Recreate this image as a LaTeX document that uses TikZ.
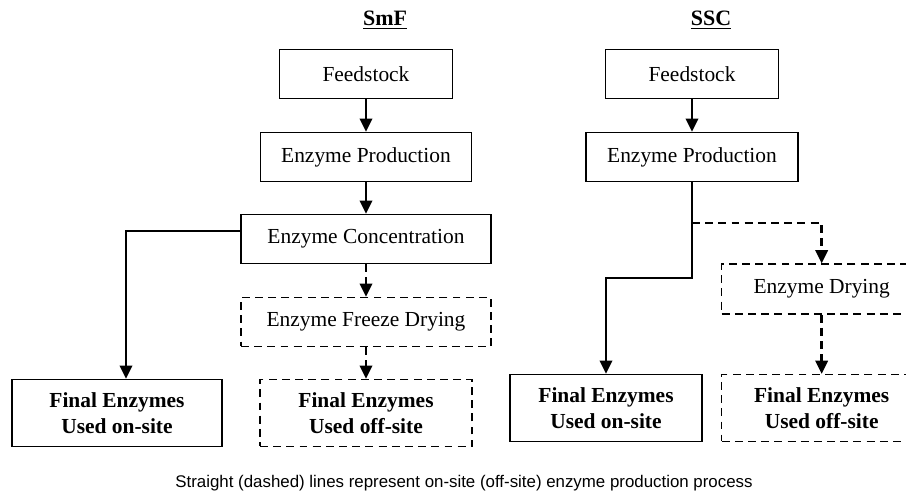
\documentclass[tikz,border=0pt]{standalone}
\usepackage{fontspec}
\setmainfont{Liberation Serif}
\newfontfamily\capfont{Liberation Sans}
\usetikzlibrary{arrows.meta}
\begin{document}
\begin{tikzpicture}[x=0.02cm,y=-0.02cm,>={Triangle[length=7.5pt,width=7pt]},line cap=butt,
box/.style={draw,line width=0.8pt,inner sep=0pt,minimum height=0.98cm,font=\fontsize{12.2}{14}\selectfont},
dbox/.style={box,dash pattern=on 4.5pt off 3pt},
fin/.style={minimum height=1.34cm,align=center,font=\fontsize{12.2}{14.5}\selectfont\bfseries},
arr/.style={->,line width=1.4pt},
darr/.style={arr,dash pattern=on 4.5pt off 3pt}]
\useasboundingbox (0,0) rectangle (906,492);
\path(385,20)node(t1){\fontsize{12.5}{14}\selectfont\underline{\textbf{SmF}}}
(366,74)node[box,minimum width=3.46cm](f1){Feedstock}
(366,157)node[box,minimum width=4.22cm](p1){Enzyme Production}
(366,239)node[box,minimum width=5cm](c1){Enzyme Concentration}
(366,322)node[dbox,minimum width=5cm](d1){Enzyme Freeze Drying}
(117,413)node[box,fin,minimum width=4.2cm](on1){Final Enzymes\\Used on-site}
(366,413)node[dbox,fin,minimum width=4.24cm](off1){Final Enzymes\\Used off-site}
;
\path(711,20)node(t2){\fontsize{12.5}{14}\selectfont\underline{\textbf{SSC}}}
(692,74)node[box,minimum width=3.46cm](f2){Feedstock}
(692,157)node[box,minimum width=4.24cm](p2){Enzyme Production}
(606,408)node[box,fin,minimum width=3.84cm](on2){Final Enzymes\\Used on-site}
(721,289)node[dbox,anchor=west,minimum width=4cm,minimum height=1cm](d2){Enzyme Drying}
(721,408)node[dbox,fin,anchor=west,minimum width=4cm](off2){Final Enzymes\\Used off-site}
;
\path(464,483)node(cap){\capfont\fontsize{9.6}{11}\selectfont Straight (dashed) lines represent on-site (off-site) enzyme production process};
\draw[arr](f1)--(p1);
\draw[arr](p1)--(c1);
\draw[darr](c1)--(d1);
\draw[darr](d1)--(off1);
\draw[arr]([yshift=0.16cm]c1.west)-|([xshift=0.18cm]on1.north);
\draw[arr](f2)--(p2);
\draw[arr](p2.south)--++(0,96)-|(on2.north);
\draw[darr]([yshift=-0.82cm]p2.south)-|(d2.north);
\draw[darr](d2)--(off2);
\end{tikzpicture}
\end{document}
